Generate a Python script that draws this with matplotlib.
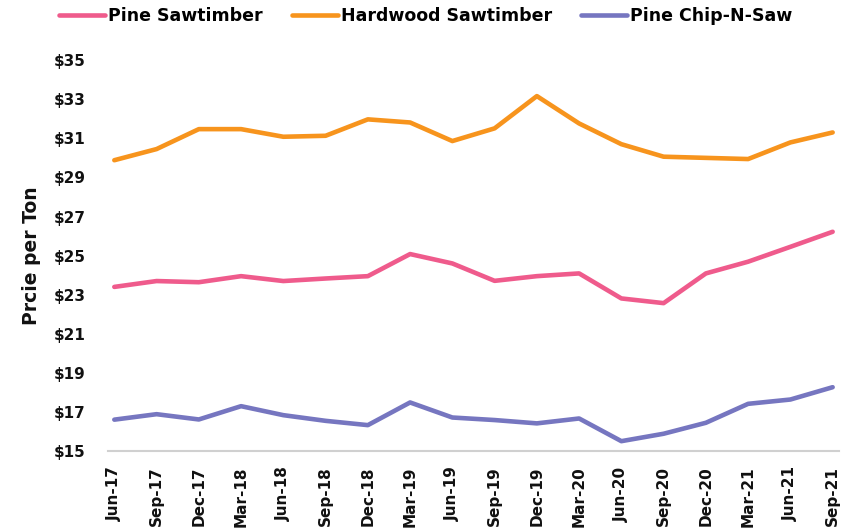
import matplotlib
matplotlib.use("Agg")
import matplotlib.pyplot as plt
from matplotlib.ticker import FuncFormatter

quarters = ["Jun-17", "Sep-17", "Dec-17", "Mar-18", "Jun-18", "Sep-18", "Dec-18",
            "Mar-19", "Jun-19", "Sep-19", "Dec-19", "Mar-20", "Jun-20", "Sep-20",
            "Dec-20", "Mar-21", "Jun-21", "Sep-21"]

pine_sawtimber = [23.40, 23.70, 23.64, 23.95, 23.70, 23.83, 23.95, 25.08, 24.60,
                  23.71, 23.95, 24.09, 22.81, 22.57, 24.09, 24.69, 25.45, 26.22]
hardwood_sawtimber = [29.88, 30.45, 31.47, 31.47, 31.08, 31.13, 31.97, 31.81, 30.86,
                      31.51, 33.16, 31.76, 30.70, 30.06, 30.00, 29.94, 30.79, 31.30]
pine_chip_n_saw = [16.61, 16.89, 16.62, 17.30, 16.84, 16.55, 16.33, 17.49, 16.72,
                   16.59, 16.42, 16.67, 15.51, 15.89, 16.45, 17.42, 17.64, 18.27]

series = [
    ("Pine Sawtimber", pine_sawtimber, "#EF5B8C"),
    ("Hardwood Sawtimber", hardwood_sawtimber, "#F7941D"),
    ("Pine Chip-N-Saw", pine_chip_n_saw, "#7676C0"),
]

plt.rcParams["font.family"] = ["DejaVu Sans"]

fig = plt.figure(figsize=(8.59, 5.32), dpi=100)
ax = fig.add_axes([0.1257, 0.152, 0.851, 0.735])

x = list(range(len(quarters)))
for name, vals, color in series:
    ax.plot(x, vals, color=color, linewidth=3.3, label=name,
            solid_capstyle="round", solid_joinstyle="round")

ax.set_ylim(15, 35)
ax.set_yticks(range(15, 36, 2))
ax.yaxis.set_major_formatter(FuncFormatter(lambda v, _: f"${v:.0f}"))
ax.set_xlim(-0.15, len(quarters) - 1 + 0.15)
ax.set_xticks(x)
ax.set_xticklabels(quarters, rotation=90)

for lbl in ax.get_yticklabels() + ax.get_xticklabels():
    lbl.set_fontweight("bold")
    lbl.set_fontsize(11)
    lbl.set_color("#111111")

ax.tick_params(axis="y", length=0, pad=16)
ax.tick_params(axis="x", length=0, pad=11)
for side in ("top", "right", "left"):
    ax.spines[side].set_visible(False)
ax.spines["bottom"].set_color("#D0D0D0")
ax.spines["bottom"].set_linewidth(1.5)

ax.set_ylabel("Prcie per Ton", fontsize=13.5, fontweight="bold", color="#111111", labelpad=9)

fig.legend(loc="upper left", bbox_to_anchor=(0.069, 0.986), ncol=3, frameon=False,
           prop={"family": "DejaVu Sans", "weight": "bold", "size": 12.5},
           borderpad=0, borderaxespad=0,
           handlelength=2.65, handletextpad=0.15, columnspacing=1.7)

fig.savefig("out.png", dpi=100)
